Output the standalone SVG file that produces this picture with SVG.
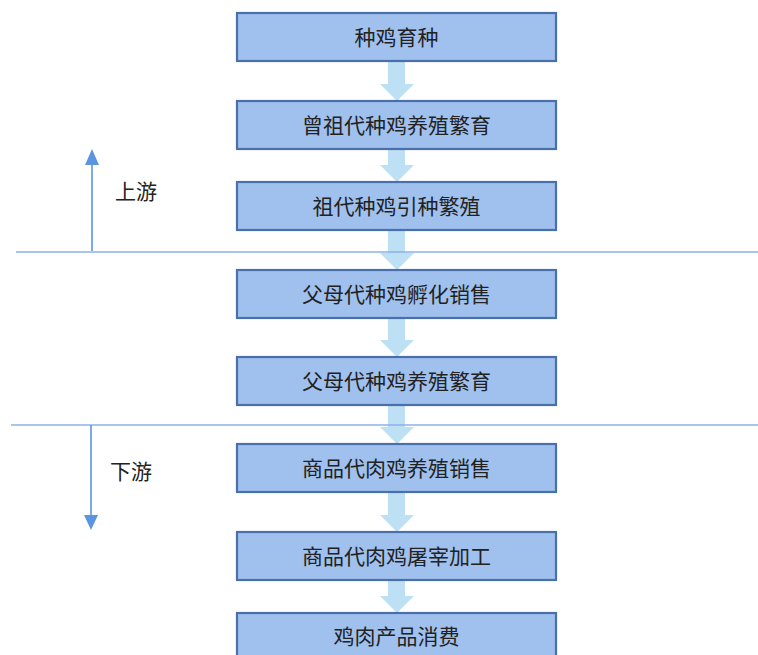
<svg xmlns="http://www.w3.org/2000/svg" width="758" height="655" viewBox="0 0 758 655">
<defs>
<style>
.box{fill:#a0c0ee;stroke:#4a70ab;stroke-width:2.2}
.lbl{font-family:"Microsoft YaHei","Noto Sans CJK SC",sans-serif;font-size:21px;fill:#222;text-anchor:middle;dominant-baseline:central}
.side{font-family:"Microsoft YaHei","Noto Sans CJK SC",sans-serif;font-size:21px;fill:#222;dominant-baseline:central}
.flow{fill:#bde0f4}
.div{stroke:#8db2e8;stroke-width:1.6;fill:none}
.dir{stroke:#5b95e0;stroke-width:1.6;fill:none}
</style>
</defs>
<g id="connectors">
<path class="flow" d="M388,61 H405 V84 H414 L397,101 L380,84 H388 Z"/>
<path class="flow" d="M388,149 H405 V165 H414 L397,182 L380,165 H388 Z"/>
<path class="flow" d="M388,230 H405 V253 H414 L397,270 L380,253 H388 Z"/>
<path class="flow" d="M388,318 H405 V340 H414 L397,357 L380,340 H388 Z"/>
<path class="flow" d="M388,405 H405 V427 H414 L397,444 L380,427 H388 Z"/>
<path class="flow" d="M388,492 H405 V515 H414 L397,532 L380,515 H388 Z"/>
<path class="flow" d="M388,580 H405 V596 H414 L397,613 L380,596 H388 Z"/>
</g>
<g id="dividers">
<line class="div" x1="16" y1="252" x2="758" y2="252"/>
<line class="div" x1="11" y1="425" x2="758" y2="425"/>
</g>
<g id="upstream">
<line x1="92" y1="251" x2="92" y2="164" class="dir"/>
<path d="M85,165 L92,149 L99,165 Z" fill="#5b95e0"/>
<text class="side" x="115" y="190">上游</text>
</g>
<g id="downstream">
<line x1="91" y1="425" x2="91" y2="516" class="dir"/>
<path d="M84,515 L91,530 L98,515 Z" fill="#5b95e0"/>
<text class="side" x="110" y="470">下游</text>
</g>
<g id="n1"><rect class="box" x="237" y="13" width="319" height="48"/><text class="lbl" x="396.5" y="35.5">种鸡育种</text></g>
<g id="n2"><rect class="box" x="237" y="101" width="319" height="48"/><text class="lbl" x="396.5" y="123.5">曾祖代种鸡养殖繁育</text></g>
<g id="n3"><rect class="box" x="237" y="182" width="319" height="48"/><text class="lbl" x="396.5" y="204.5">祖代种鸡引种繁殖</text></g>
<g id="n4"><rect class="box" x="237" y="270" width="319" height="48"/><text class="lbl" x="396.5" y="292.5">父母代种鸡孵化销售</text></g>
<g id="n5"><rect class="box" x="237" y="357" width="319" height="48"/><text class="lbl" x="396.5" y="379.5">父母代种鸡养殖繁育</text></g>
<g id="n6"><rect class="box" x="237" y="444" width="319" height="48"/><text class="lbl" x="396.5" y="466.5">商品代肉鸡养殖销售</text></g>
<g id="n7"><rect class="box" x="237" y="532" width="319" height="48"/><text class="lbl" x="396.5" y="554.5">商品代肉鸡屠宰加工</text></g>
<g id="n8"><rect class="box" x="237" y="613" width="319" height="48"/><text class="lbl" x="396.5" y="635">鸡肉产品消费</text></g>
</svg>
